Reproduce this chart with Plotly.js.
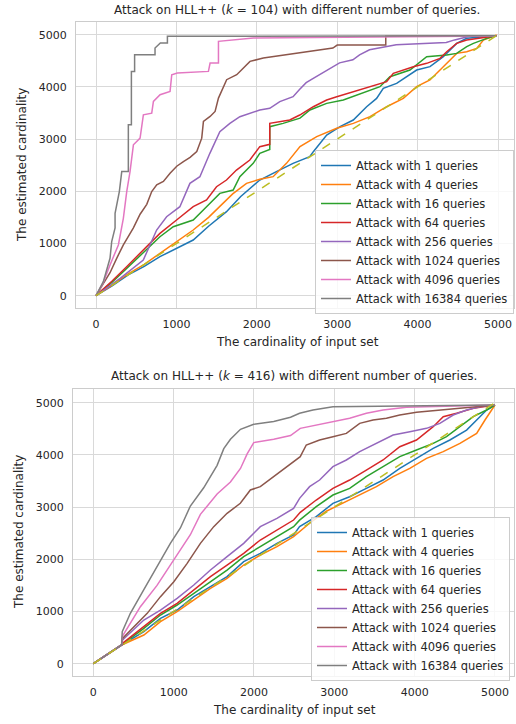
<!DOCTYPE html>
<html><head><meta charset="utf-8">
<script src="https://cdn.plot.ly/plotly-3.0.1.min.js"></script>
<style>html,body{margin:0;padding:0;background:#fff}</style>
</head><body><div id="chart" style="width:516px;height:724px"></div>
<script>
// ---------- data ----------
const seriesNames = ["Attack with 1 queries","Attack with 4 queries","Attack with 16 queries","Attack with 64 queries","Attack with 256 queries","Attack with 1024 queries","Attack with 4096 queries","Attack with 16384 queries"];
const colors = ["#1f77b4","#ff7f0e","#2ca02c","#d62728","#9467bd","#8c564b","#e377c2","#7f7f7f"];
const titleTop = "Attack on HLL++ (<i>k</i> = 104) with different number of queries.";
const titleBottom = "Attack on HLL++ (<i>k</i> = 416) with different number of queries.";
const xLabel = "The cardinality of input set";
const yLabel = "The estimated cardinality";
const diagX = [0, 5000];
const diagY = [0, 5000];

// k = 104
const t1x = [0,200,400,600,795,1000,1209,1400,1623,1800,2037,2250,2451,2658,2703,2869,3035,3200,3366,3490,3573,3739,3864,3988,4154,4320,4486,4611,4980];
const t1y = [0,190,400,560,747,900,1066,1330,1609,1900,2216,2380,2535,2663,2759,3078,3238,3365,3620,3780,3972,4068,4195,4323,4387,4578,4834,4930,4980];
const t4x = [0,200,400,600,795,1000,1209,1400,1540,1700,1872,2037,2203,2369,2537,2745,2994,3200,3408,3615,3822,3988,4154,4362,4486,4611,4735,4818,4984];
const t4y = [0,200,420,600,811,1030,1258,1500,1705,1950,2152,2230,2280,2535,2855,3046,3206,3301,3429,3620,3780,4004,4132,4451,4642,4674,4738,4898,4993];
const t16x = [0,200,381,588,795,961,1209,1375,1540,1706,1789,1955,2037,2161,2161,2327,2451,2537,2661,2869,3076,3366,3532,3656,3905,4113,4362,4486,4611,4694,4860,4980];
const t16y = [0,260,520,830,1130,1322,1450,1705,1960,2024,2280,2535,2727,2800,3238,3301,3365,3400,3557,3684,3748,3908,4004,4195,4323,4578,4610,4642,4770,4834,4930,4980];
const t64x = [0,200,381,588,795,1002,1209,1375,1499,1623,1747,1913,2037,2161,2161,2410,2534,2703,2869,2994,3200,3408,3615,3698,3947,4113,4279,4362,4486,4611,4735,4980];
const t64y = [0,280,556,875,1194,1450,1705,1833,2088,2216,2407,2599,2855,2900,3301,3365,3461,3620,3748,3812,3908,4004,4100,4259,4387,4451,4547,4674,4834,4898,4930,4980];
const t256x = [0,300,588,754,878,1043,1168,1292,1416,1540,1665,1789,2037,2161,2286,2451,2531,2614,2718,2822,2946,3029,3195,3278,3402,3734,4356,4460,4647,4980];
const t256y = [0,330,683,1258,1513,1705,2152,2280,2727,3142,3301,3429,3557,3589,3717,3812,3950,4080,4176,4272,4400,4460,4520,4615,4710,4808,4850,4900,4968,4980];
const t1024x = [0,174,257,340,465,548,631,693,755,838,921,1004,1087,1170,1253,1315,1336,1419,1481,1523,1625,1750,1812,1915,2081,2371,2786,2946,3000,3604,3604,4980];
const t1024y = [0,440,716,972,1300,1560,1750,1995,2123,2187,2347,2480,2570,2650,2762,3018,3338,3434,3529,3785,4138,4234,4330,4489,4553,4617,4713,4745,4800,4800,4968,4980];
const t4096x = [0,90,174,278,340,382,423,465,506,548,589,693,714,797,921,942,1012,1398,1419,1523,1523,1957,4980];
const t4096y = [0,250,588,972,1483,1995,2378,2890,2954,3018,3465,3497,3721,3849,3913,4233,4265,4297,4457,4457,4872,4936,4975];
const t16384x = [0,91,174,195,237,237,290,320,402,402,440,440,480,480,734,734,800,888,888,4980];
const t16384y = [0,268,716,1036,1300,1579,1995,2378,2378,3274,3274,4297,4297,4616,4616,4744,4840,4840,4968,4980];

// k = 416
const b1x = [0,352,629,836,1043,1251,1458,1665,1872,2079,2286,2493,2568,2775,2983,3191,3399,3607,3815,4023,4231,4439,4647,4813,4896,5000];
const b1y = [0,358,613,868,1028,1284,1475,1667,1954,2114,2305,2465,2625,2816,3072,3199,3359,3518,3742,3934,4125,4285,4476,4732,4860,4955];
const b4x = [0,352,629,836,1043,1251,1458,1665,1872,2079,2286,2493,2568,2700,2900,3108,3316,3524,3732,3940,4148,4356,4564,4772,4876,5000];
const b4y = [0,358,549,804,996,1220,1443,1635,1890,2082,2241,2433,2529,2700,2920,3072,3231,3391,3582,3742,3934,4062,4221,4412,4668,4955];
const b16x = [0,352,629,836,1043,1251,1458,1665,1872,2079,2286,2493,2568,2775,2983,3191,3399,3607,3815,4023,4231,4397,4564,4730,4896,5000];
const b16y = [0,358,677,932,1124,1347,1571,1794,2050,2241,2433,2625,2750,3008,3231,3359,3582,3774,3966,4094,4221,4349,4540,4732,4860,4955];
const b64x = [0,352,364,629,836,1043,1251,1458,1665,1872,2079,2286,2493,2576,2775,2983,3191,3399,3607,3815,4023,4231,4356,4522,4730,5000];
const b64y = [0,358,390,709,964,1156,1411,1667,1890,2114,2369,2561,2752,2900,3135,3359,3518,3710,3902,4157,4285,4540,4732,4796,4891,4955];
const b256x = [0,352,364,629,836,1043,1251,1458,1665,1872,2079,2286,2493,2568,2692,2817,2983,3150,3316,3524,3732,3940,4148,4314,4480,4647,4813,5000];
const b256y = [0,358,453,837,1028,1252,1507,1794,2050,2305,2625,2784,2976,3167,3391,3518,3774,3902,4062,4221,4381,4444,4508,4604,4764,4860,4923,4955];
const b1024x = [0,352,364,505,671,836,1002,1168,1333,1499,1665,1830,1955,2079,2244,2410,2576,2651,2817,2983,3150,3316,3482,3649,3815,4023,4231,4522,5000];
const b1024y = [0,358,485,709,964,1284,1571,1922,2305,2625,2880,3072,3327,3391,3582,3774,3966,4189,4285,4349,4412,4604,4668,4700,4764,4815,4847,4891,4955];
const b4096x = [0,352,360,586,793,1000,1208,1333,1541,1707,1832,1915,1997,2246,2455,2576,2775,2983,3191,3399,3607,3898,5000];
const b4096y = [0,358,520,1092,1500,1987,2470,2860,3250,3480,3740,4020,4235,4300,4370,4508,4572,4636,4700,4796,4860,4910,4955];
const b16384x = [0,352,360,461,627,793,959,1084,1208,1374,1541,1624,1707,1832,1997,2246,2455,2568,2734,2983,5000];
const b16384y = [0,358,613,965,1412,1858,2306,2600,3020,3370,3800,4120,4300,4490,4585,4640,4720,4796,4860,4923,4955];

const topX = [t1x,t4x,t16x,t64x,t256x,t1024x,t4096x,t16384x];
const topY = [t1y,t4y,t16y,t64y,t256y,t1024y,t4096y,t16384y];
const botX = [b1x,b4x,b16x,b64x,b256x,b1024x,b4096x,b16384x];
const botY = [b1y,b4y,b16y,b64y,b256y,b1024y,b4096y,b16384y];

// ---------- traces ----------
const FONT = "DejaVu Sans, sans-serif";
const TXT = "#262626";
const traces = [];
for (let i = 0; i < seriesNames.length; i++) {
  traces.push({x: topX[i], y: topY[i], type: "scatter", mode: "lines", name: seriesNames[i],
    line: {color: colors[i], width: 1.5}, xaxis: "x", yaxis: "y", legend: "legend"});
}
traces.push({x: diagX, y: diagY, type: "scatter", mode: "lines", showlegend: false,
  line: {color: "#bcbd22", width: 1.5, dash: "dash"}, xaxis: "x", yaxis: "y"});
for (let i = 0; i < seriesNames.length; i++) {
  traces.push({x: botX[i], y: botY[i], type: "scatter", mode: "lines", name: seriesNames[i],
    line: {color: colors[i], width: 1.5}, xaxis: "x2", yaxis: "y2", legend: "legend2"});
}
traces.push({x: diagX, y: diagY, type: "scatter", mode: "lines", showlegend: false,
  line: {color: "#bcbd22", width: 1.5, dash: "dash"}, xaxis: "x2", yaxis: "y2"});

const W = 516, H = 724;
function ax(extra) {
  return Object.assign({
    showgrid: true, gridcolor: "#d9d9d9", gridwidth: 1, zeroline: false,
    showline: true, linecolor: "#cccccc", linewidth: 1, mirror: true,
    ticks: "outside", ticklen: 6, tickcolor: "rgba(0,0,0,0)",
    tickfont: {family: FONT, size: 11, color: TXT},
    tickvals: [0,1000,2000,3000,4000,5000], ticktext: ["0","1000","2000","3000","4000","5000"]
  }, extra);
}
const legendStyle = {
  bgcolor: "rgba(255,255,255,0.8)", bordercolor: "#cccccc", borderwidth: 1,
  font: {family: FONT, size: 11.5, color: TXT}, xanchor: "left", yanchor: "top",
  tracegroupgap: 0
};
const layout = {
  width: W, height: H, margin: {l: 0, r: 0, t: 0, b: 0},
  paper_bgcolor: "#ffffff", plot_bgcolor: "#ffffff",
  font: {family: FONT, color: TXT},
  xaxis: ax({domain: [76/W, 514/W], range: [-249, 5199], anchor: "y"}),
  yaxis: ax({domain: [1 - 308/H, 1 - 22/H], range: [-236, 5243], anchor: "x"}),
  xaxis2: ax({domain: [73/W, 514/W], range: [-253, 5237], anchor: "y2"}),
  yaxis2: ax({domain: [1 - 676/H, 1 - 389/H], range: [-236, 5262], anchor: "x2"}),
  legend: Object.assign({x: 315/W, y: 1 - 150/H}, legendStyle),
  legend2: Object.assign({x: 311/W, y: 1 - 517/H}, legendStyle),
  showlegend: true,
  annotations: [
    {text: titleTop, x: 297/W, y: 1 - 10/H, xref: "paper", yref: "paper", showarrow: false, xanchor: "center", yanchor: "middle", font: {family: FONT, size: 12, color: TXT}},
    {text: titleBottom, x: 294/W, y: 1 - 376/H, xref: "paper", yref: "paper", showarrow: false, xanchor: "center", yanchor: "middle", font: {family: FONT, size: 12, color: TXT}},
    {text: xLabel, x: 297/W, y: 1 - 342/H, xref: "paper", yref: "paper", showarrow: false, xanchor: "center", yanchor: "middle", font: {family: FONT, size: 12, color: TXT}},
    {text: xLabel, x: 294/W, y: 1 - 710/H, xref: "paper", yref: "paper", showarrow: false, xanchor: "center", yanchor: "middle", font: {family: FONT, size: 12, color: TXT}},
    {text: yLabel, x: 22/W, y: 1 - 165/H, xref: "paper", yref: "paper", showarrow: false, textangle: -90, xanchor: "center", yanchor: "middle", font: {family: FONT, size: 12, color: TXT}},
    {text: yLabel, x: 19/W, y: 1 - 532/H, xref: "paper", yref: "paper", showarrow: false, textangle: -90, xanchor: "center", yanchor: "middle", font: {family: FONT, size: 12, color: TXT}}
  ]
};
Plotly.newPlot("chart", traces, layout, {displayModeBar: false, staticPlot: true});
</script></body></html>
